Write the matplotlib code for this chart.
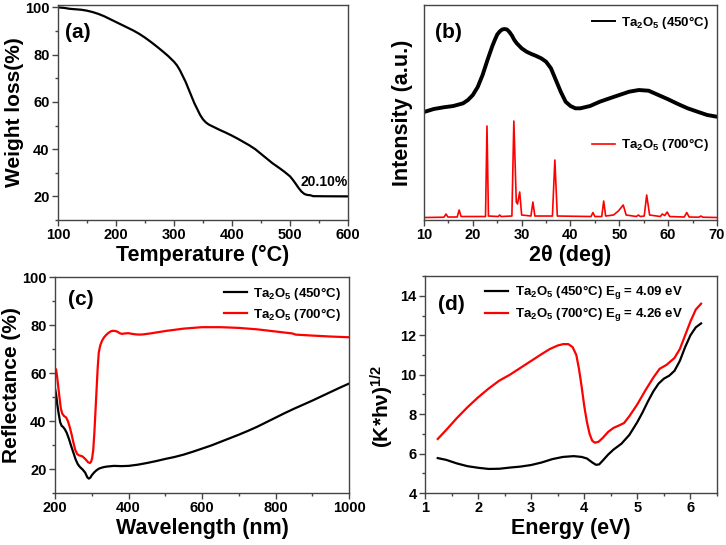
import numpy as np
import matplotlib
matplotlib.use("Agg")
import matplotlib.pyplot as plt
from matplotlib.ticker import MultipleLocator

plt.rcParams['font.family'] = ['Liberation Sans', 'DejaVu Sans']
plt.rcParams['font.weight'] = 'bold'
plt.rcParams['axes.labelweight'] = 'bold'
plt.rcParams['mathtext.fontset'] = 'custom'
plt.rcParams['mathtext.rm'] = 'Liberation Sans:bold'
plt.rcParams['mathtext.bf'] = 'Liberation Sans:bold'
plt.rcParams['mathtext.it'] = 'Liberation Sans:bold'
plt.rcParams['mathtext.default'] = 'rm'

# (a) TGA
temp_c = [100, 110, 120, 130, 140, 150, 160, 170, 180, 190, 200, 210, 220, 230, 240,
          250, 260, 270, 280, 290, 300, 305, 310, 315, 320, 325, 330, 335, 340, 345,
          350, 355, 360, 370, 380, 390, 400, 410, 420, 430, 440, 450, 460, 470, 480,
          490, 500, 505, 510, 515, 520, 525, 530, 535, 540, 560, 600]
weight = [100, 99.8, 99.4, 99.2, 99.0, 98.6, 98.0, 97.2, 96.2, 95.0, 93.8, 92.6,
          91.4, 90.2, 88.8, 87.2, 85.4, 83.5, 81.5, 79.4, 77.0, 75.5, 73.5, 71.0,
          68.5, 65.5, 62.5, 59.5, 57.0, 54.5, 52.6, 51.3, 50.4, 49.2, 48.0, 46.9,
          45.7, 44.4, 43.0, 41.6, 40.0, 38.0, 36.0, 34.0, 32.3, 30.5, 28.5, 27.0,
          25.3, 23.5, 22.0, 21.0, 20.6, 20.5, 20.1, 20.05, 20.0]

# (b) XRD
tt_450 = [10, 12, 14, 16, 18, 19, 20, 21, 22, 23, 24, 24.5, 25, 25.5, 26, 26.5, 27,
          27.5, 28, 28.5, 29, 30, 31, 32, 33, 34, 35, 36, 37, 38, 39, 40, 41, 42, 44,
          46, 48, 50, 52, 54, 56, 58, 60, 62, 64, 66, 68, 70]
i_450 = [108, 111, 112.7, 114, 116.7, 120, 125, 133, 145, 160, 174, 180, 185.5,
         188.5, 190.5, 191, 190.5, 188, 184.5, 180, 176.7, 171.7, 168.3, 166, 164,
         161.7, 158.3, 151.7, 140, 128.3, 118.3, 114, 111.7, 111.7, 114, 118.3,
         121.7, 125, 128.3, 130, 129.3, 125, 120.7, 116, 111.7, 108.3, 105, 103.3]
tt_700 = [10, 14.1, 14.5, 14.9, 16.8, 17.2, 17.6, 19.0, 22.6, 22.9, 23.2, 25.2, 25.5,
          25.8, 28.0, 28.4, 28.9, 29.15, 29.6, 30.0, 31.9, 32.3, 32.7, 36.3, 36.8,
          37.3, 44.2, 44.6, 45.0, 46.4, 46.8, 47.2, 48.8, 49.8, 50.8, 51.4, 53.5,
          53.9, 54.3, 55.1, 55.6, 56.2, 58.4, 58.8, 59.3, 59.8, 60.3, 63.3, 63.8,
          64.3, 66.3, 66.7, 67.1, 70]
i_700 = [2.5, 2.8, 6, 3, 3, 10, 3.5, 3.5, 3.5, 94, 4, 3.5, 5, 3.5, 4, 99, 18, 16,
         28, 5, 4, 18, 4, 4, 60, 4, 3.5, 7.5, 3.5, 3.5, 19, 4, 5, 9, 15, 5, 3.5, 5,
         3.5, 4, 25, 5, 3.5, 6, 4.5, 8, 3.5, 3, 7.5, 3, 2.8, 4, 2.8, 2.5]

# (c) reflectance
wl_450 = [200, 203, 206, 210, 214, 218, 222, 227, 232, 238, 244, 250, 256, 262, 268,
          275, 282, 288, 292, 296, 300, 306, 313, 320, 330, 340, 360, 380, 400, 425,
          450, 475, 500, 525, 550, 575, 600, 625, 650, 675, 700, 725, 750, 775, 800,
          825, 850, 875, 900, 925, 950, 975, 1000]
r_450 = [53.5, 51.0, 47.0, 43.0, 39.5, 38.0, 37.5, 36.5, 35.0, 32.5, 29.5, 26.8,
         24.0, 22.0, 20.8, 19.8, 18.5, 16.5, 16.0, 16.4, 17.4, 18.5, 19.5, 20.2,
         20.7, 21.0, 21.3, 21.2, 21.3, 21.8, 22.5, 23.3, 24.2, 25.0, 26.0, 27.2,
         28.5, 29.8, 31.3, 32.8, 34.3, 35.9, 37.6, 39.5, 41.4, 43.3, 45.1, 46.8,
         48.5, 50.3, 52.1, 53.9, 55.6]
wl_700 = [200, 203, 206, 209, 212, 216, 220, 225, 230, 235, 240, 245, 250, 255, 260,
          265, 270, 275, 280, 285, 290, 295, 298, 301, 304, 307, 310, 313, 316, 319,
          323, 328, 334, 340, 346, 352, 358, 364, 370, 376, 382, 390, 400, 410, 420,
          430, 440, 460, 480, 500, 550, 600, 650, 700, 750, 800, 845, 855, 900, 950,
          1000]
r_700 = [61.9, 61.5, 58.0, 54.0, 50.0, 45.0, 43.0, 42.0, 41.5, 40.0, 37.5, 34.5,
         31.0, 28.0, 26.3, 25.7, 25.5, 25.2, 24.5, 23.7, 22.8, 22.5, 23.0, 24.5,
         28.0, 35.0, 44.0, 53.0, 62.0, 68.5, 71.5, 73.5, 75.0, 76.0, 76.8, 77.4,
         77.6, 77.5, 77.2, 76.6, 76.3, 76.5, 76.6, 76.3, 76.1, 76.0, 76.1, 76.5,
         77.0, 77.5, 78.5, 79.1, 79.1, 78.8, 78.2, 77.3, 76.5, 76.0, 75.6, 75.2,
         74.9]

# (d) Tauc
e_450 = [1.24, 1.4, 1.6, 1.8, 2.0, 2.2, 2.4, 2.6, 2.8, 3.0, 3.2, 3.4, 3.6, 3.8,
         3.95, 4.05, 4.15, 4.22, 4.28, 4.35, 4.45, 4.55, 4.7, 4.85, 5.0, 5.1, 5.2,
         5.3, 5.4, 5.5, 5.6, 5.7, 5.8, 5.9, 6.0, 6.1, 6.2]
k_450 = [5.77, 5.68, 5.5, 5.36, 5.28, 5.22, 5.23, 5.29, 5.34, 5.42, 5.55, 5.72,
         5.83, 5.87, 5.83, 5.75, 5.55, 5.43, 5.45, 5.65, 5.95, 6.2, 6.5, 6.95, 7.6,
         8.1, 8.65, 9.15, 9.55, 9.8, 9.95, 10.2, 10.7, 11.4, 12.0, 12.4, 12.6]
e_700 = [1.24, 1.4, 1.6, 1.8, 2.0, 2.2, 2.4, 2.6, 2.8, 3.0, 3.2, 3.35, 3.5, 3.6,
         3.7, 3.78, 3.85, 3.9, 3.95, 4.0, 4.05, 4.1, 4.15, 4.2, 4.27, 4.35, 4.45,
         4.55, 4.65, 4.75, 4.85, 5.0, 5.15, 5.3, 5.42, 5.55, 5.7, 5.8, 5.9, 6.0,
         6.1, 6.2]
k_700 = [6.74, 7.2, 7.8, 8.35, 8.85, 9.3, 9.7, 10.0, 10.35, 10.7, 11.05, 11.3,
         11.48, 11.55, 11.55, 11.4, 11.0, 10.3, 9.4, 8.4, 7.6, 7.0, 6.65, 6.55,
         6.6, 6.8, 7.1, 7.3, 7.42, 7.55, 7.9, 8.5, 9.2, 9.85, 10.3, 10.5, 10.85,
         11.3, 12.0, 12.7, 13.3, 13.6]

lab_450 = 'Ta$_2$O$_5$ (450°C)'
lab_700 = 'Ta$_2$O$_5$ (700°C)'
RED = '#ff0000'


def style(ax, xmaj, xmin, ymaj=None, ymin=None):
    for s in ax.spines.values():
        s.set_color('#444444')
        s.set_linewidth(1.0)
    ax.tick_params(which='major', direction='out', length=4, width=1,
                   labelsize=10.5, color='#444444', pad=2)
    ax.tick_params(which='minor', direction='out', length=2, width=1,
                   color='#444444')
    ax.xaxis.set_major_locator(MultipleLocator(xmaj))
    ax.xaxis.set_minor_locator(MultipleLocator(xmin))
    if ymaj is None:
        ax.set_yticks([])
    else:
        ax.yaxis.set_major_locator(MultipleLocator(ymaj))
        ax.yaxis.set_minor_locator(MultipleLocator(ymin))
    for t in ax.get_xticklabels() + ax.get_yticklabels():
        t.set_fontweight('bold')


fig = plt.figure(figsize=(7.26, 5.45), dpi=100)
ax_a = fig.add_axes([0.0799, 0.5963, 0.3994, 0.3945])
ax_b = fig.add_axes([0.584, 0.5963, 0.4036, 0.3945])
ax_c = fig.add_axes([0.0758, 0.0954, 0.405, 0.3963])
ax_d = fig.add_axes([0.5854, 0.0954, 0.4022, 0.398])

# (a)
ax_a.plot(temp_c, weight, color='black', lw=1.6)
ax_a.set_xlim(100, 600)
ax_a.set_ylim(10, 101)
style(ax_a, 100, 50, 20, 10)
ax_a.set_xlabel('Temperature (°C)', fontsize=15.5, labelpad=2)
ax_a.set_ylabel('Weight loss(%)', fontsize=15, labelpad=1)
ax_a.text(0.024, 0.87, '(a)', transform=ax_a.transAxes, fontsize=15,
          fontweight='bold', va='center')
ax_a.text(600, 23, '20.10%', ha='right', va='bottom', fontsize=10,
          fontweight='bold')

# (b)
l450, = ax_b.plot(tt_450, i_450, color='black', lw=2.8)
l700, = ax_b.plot(tt_700, i_700, color=RED, lw=1.2)
ax_b.set_xlim(10, 70)
ax_b.set_ylim(0, 215)
style(ax_b, 10, 5)
ax_b.set_xlabel('2θ (deg)', fontsize=15.5, labelpad=2)
ax_b.set_ylabel('Intensity (a.u.)', fontsize=15.5, labelpad=8)
ax_b.text(0.038, 0.87, '(b)', transform=ax_b.transAxes, fontsize=15,
          fontweight='bold', va='center')
leg1 = ax_b.legend([l450], [lab_450], loc='center right',
                   bbox_to_anchor=(1.0, 0.92), frameon=False, fontsize=9.5,
                   handlelength=1.7, handletextpad=0.5, borderaxespad=0.2)
for h in leg1.get_lines():
    h.set_linewidth(1.4)
ax_b.add_artist(leg1)
ax_b.legend([l700], [lab_700], loc='center right', bbox_to_anchor=(1.0, 0.35),
            frameon=False, fontsize=9.5, handlelength=1.7, handletextpad=0.5,
            borderaxespad=0.2)

# (c)
ax_c.plot(wl_450, r_450, color='black', lw=1.6, label=lab_450)
ax_c.plot(wl_700, r_700, color=RED, lw=1.6, label=lab_700)
ax_c.set_xlim(200, 1000)
ax_c.set_ylim(10, 100)
style(ax_c, 200, 100, 20, 10)
ax_c.set_xlabel('Wavelength (nm)', fontsize=15.5, labelpad=2)
ax_c.set_ylabel('Reflectance (%)', fontsize=15, labelpad=1)
ax_c.text(0.044, 0.898, '(c)', transform=ax_c.transAxes, fontsize=15,
          fontweight='bold', va='center')
ax_c.legend(loc='upper right', frameon=False, fontsize=9.5, handlelength=1.7,
            handletextpad=0.5, borderaxespad=0.2, labelspacing=0.3)

# (d)
ax_d.plot(e_450, k_450, color='black', lw=1.6,
          label=lab_450 + ' E$_g$ = 4.09 eV')
ax_d.plot(e_700, k_700, color=RED, lw=1.6,
          label=lab_700 + ' E$_g$ = 4.26 eV')
ax_d.set_xlim(1, 6.5)
ax_d.set_ylim(4, 15)
style(ax_d, 1, 0.5, 2, 1)
ax_d.set_xlabel('Energy (eV)', fontsize=15.5, labelpad=2)
ax_d.set_ylabel('(K*hν)$^{1/2}$', fontsize=15, labelpad=4)
ax_d.yaxis.set_label_coords(-0.1, 0.4)
ax_d.text(0.045, 0.87, '(d)', transform=ax_d.transAxes, fontsize=15,
          fontweight='bold', va='center')
ax_d.legend(loc='upper left', bbox_to_anchor=(0.18, 1.0), frameon=False,
            fontsize=9.5, handlelength=1.7, handletextpad=0.5,
            borderaxespad=0.2, labelspacing=0.3)

fig.savefig('out.png', dpi=100)
